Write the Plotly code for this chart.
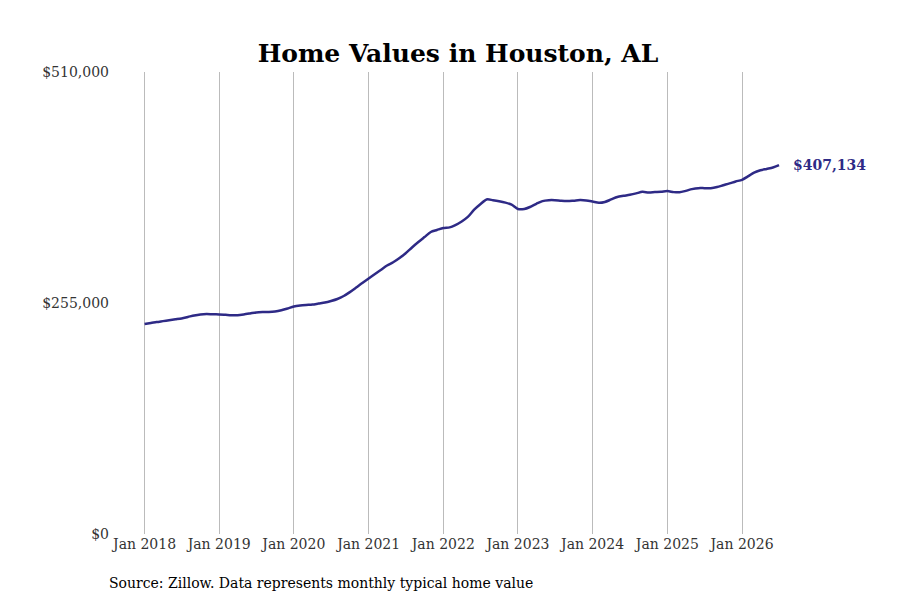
import plotly.graph_objects as go
import pandas as pd

values_k = [
 231.8,232.9,234,235,236,237,238,239.6,241.3,242.4,242.9,242.5,
 242.4,242,241.6,241.6,242.4,243.5,244.6,245,245,245.6,247,249,
 251.1,252.2,252.8,253.3,254.4,255.5,257.2,259.4,262.7,267,272,277,
 282,287,291.4,296.4,300,304.7,310,316.3,322.3,327.8,333.4,335.6,
 337.8,338.5,341,345,350,358,364,369.3,368.5,367.4,365.8,363.5,
 358.8,358.8,361,364.5,367.5,368.5,368.5,367.8,367.5,368,368.6,368.2,
 367,365.6,366.5,369.3,372,373.3,374.5,376,377.7,377,377.4,377.7,
 378.5,377.4,377.2,378.8,380.7,381.8,381.8,381.8,383,385,387,389.2,
 391,395,399,401.5,403,404.5,407.134]
dates = pd.date_range("2018-01-01", periods=len(values_k), freq="MS")
values = [v * 1000 for v in values_k]
y_ticks = [0, 255000, 510000]
y_labels = ["$0", "$255,000", "$510,000"]

font = "DejaVu Serif"
fig = go.Figure(go.Scatter(x=dates, y=values, mode="lines",
                           line=dict(color="#2e2a86", width=2.5, shape="spline", smoothing=0.8),
                           hoverinfo="skip"))
fig.add_annotation(x=dates[-1], y=values[-1], text="<b>$407,134</b>", showarrow=False,
                   xanchor="left", xshift=12, font=dict(family=font, size=14, color="#2e2a86"))
fig.add_annotation(xref="paper", yref="paper", x=-0.004, y=-0.105, xanchor="left", yanchor="middle",
                   text="Source: Zillow. Data represents monthly typical home value",
                   showarrow=False, font=dict(family=font, size=14, color="black"))
fig.update_layout(
    width=900, height=600, plot_bgcolor="white", paper_bgcolor="white",
    margin=dict(l=102, r=48, t=64, b=74),
    title=dict(text="<b>Home Values in Houston, AL</b>", x=0.5, xanchor="center", y=0.94,
               font=dict(family=font, size=25, color="black")),
    font=dict(family=font, size=14, color="#333"),
    showlegend=False,
    xaxis=dict(range=["2017-07-16", "2027-08-01"], showgrid=True, gridcolor="#bbb", gridwidth=1,
               tickvals=[f"{y}-01-01" for y in range(2018, 2027)],
               ticktext=[f"Jan {y}" for y in range(2018, 2027)], showline=False, zeroline=False),
    yaxis=dict(range=[0, 510000], tickvals=y_ticks, ticktext=y_labels, showgrid=False,
               zeroline=False, showline=False),
)
fig.write_html("out.html")
